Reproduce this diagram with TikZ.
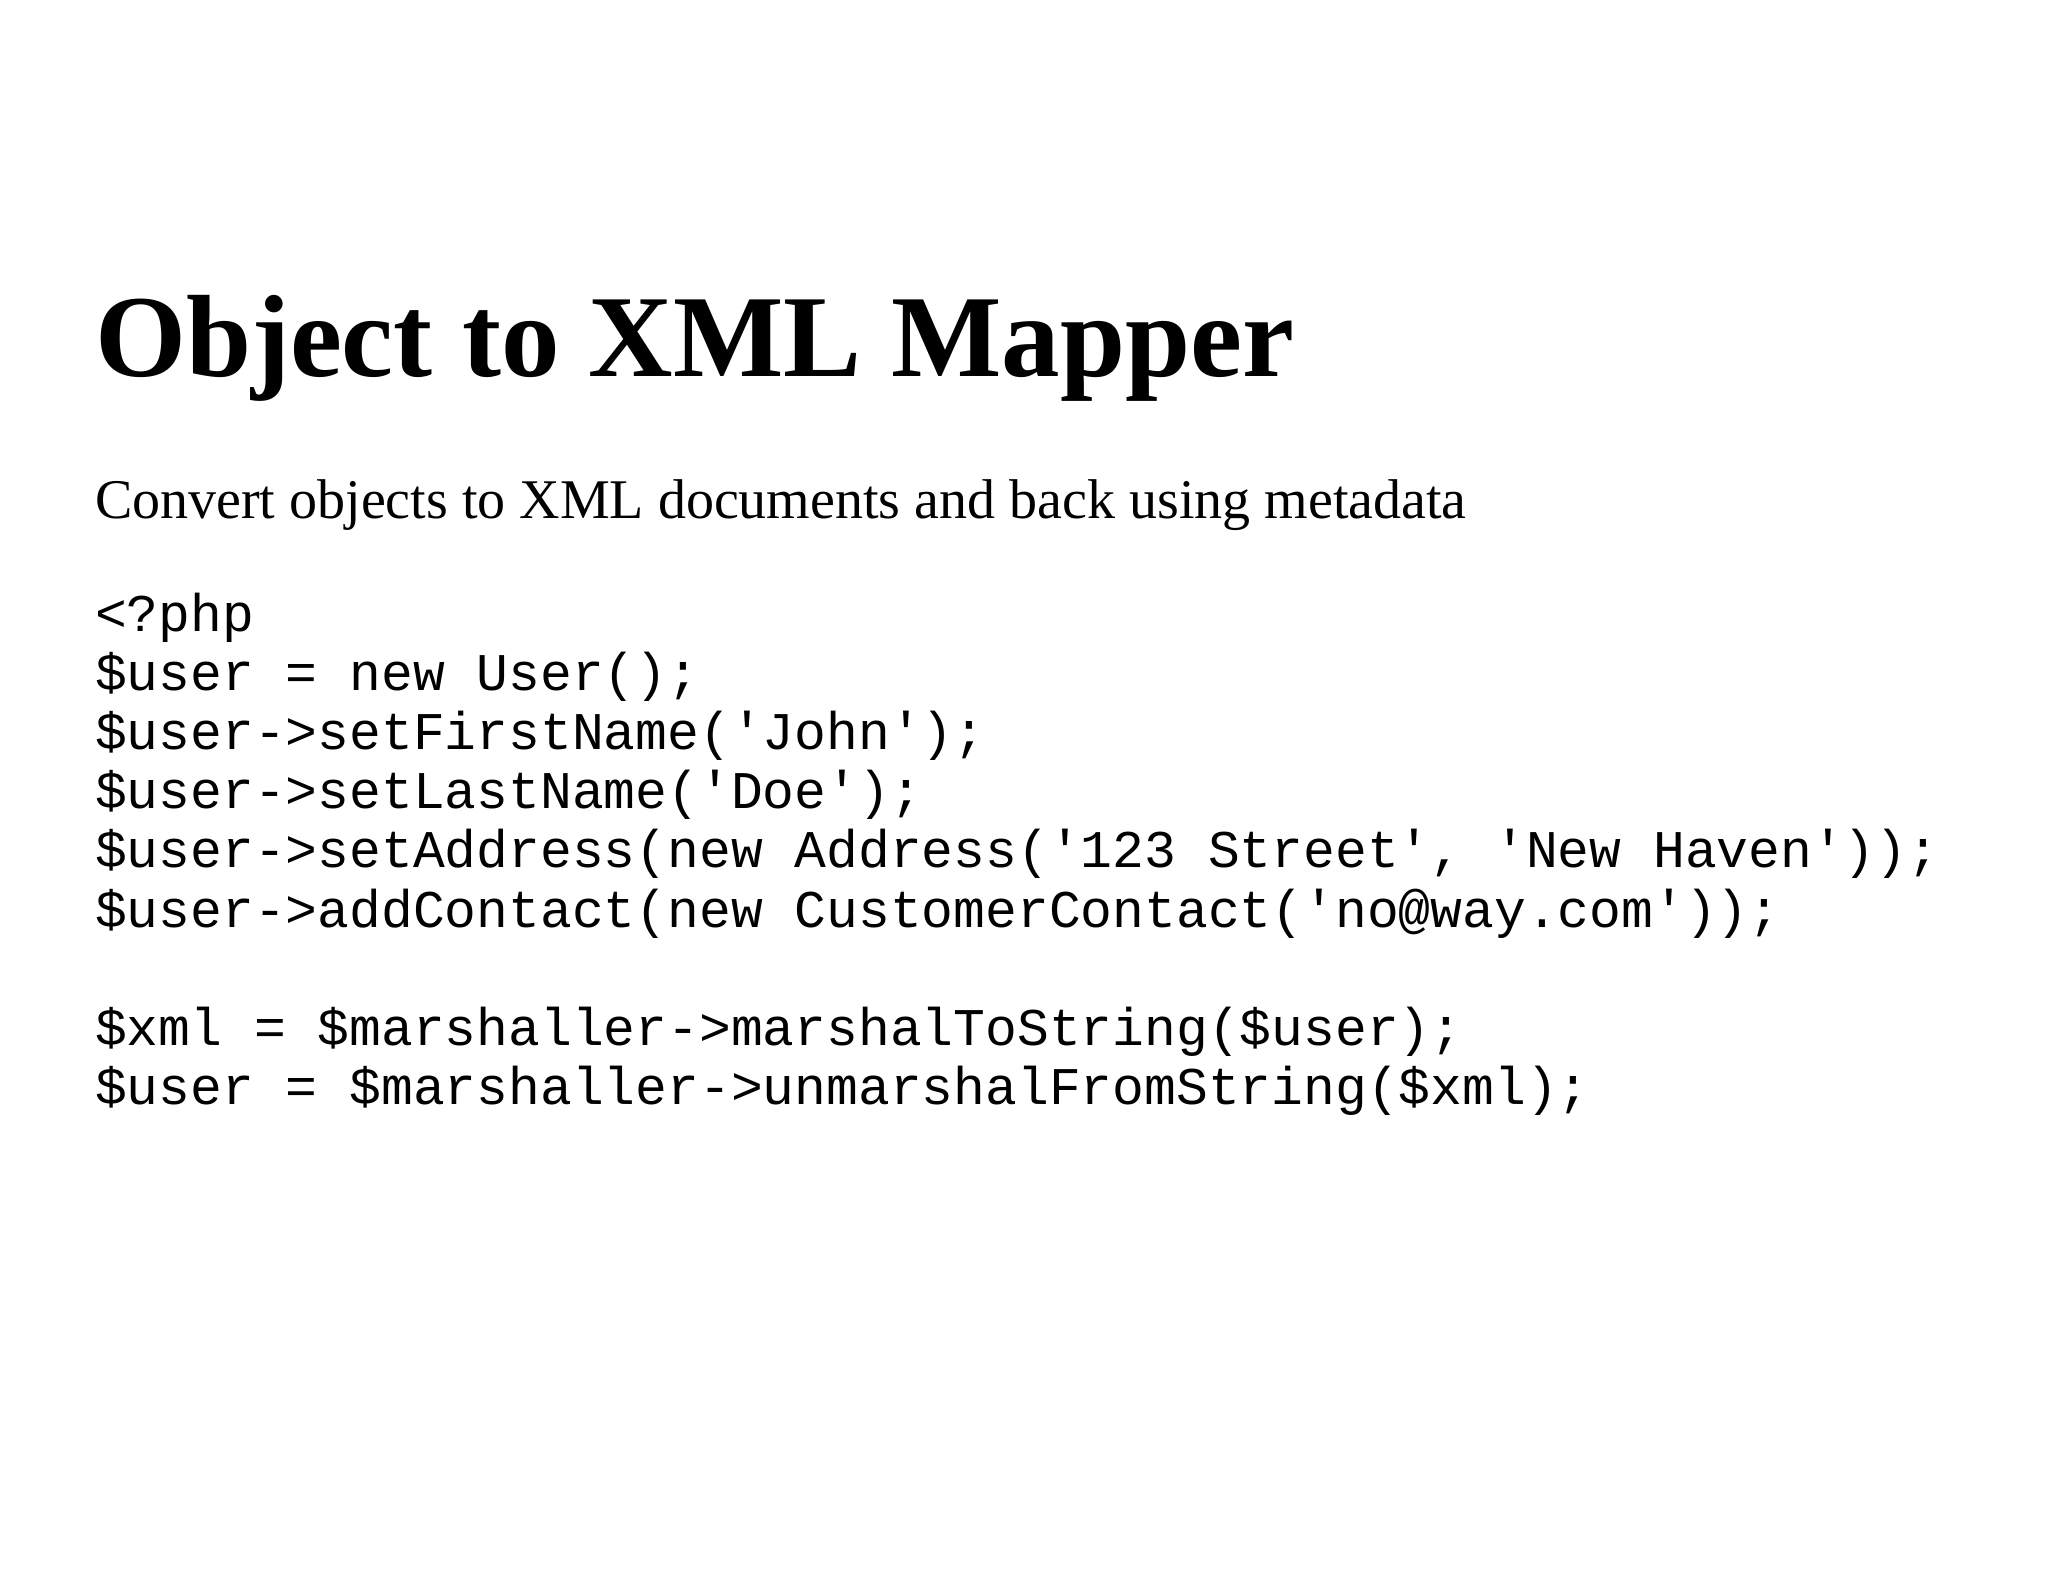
\documentclass[tikz,border=0pt]{standalone}
\usepackage{fontspec}
\setmainfont{Liberation Serif}
\setmonofont{Liberation Mono}
\begin{document}
\begin{tikzpicture}[x=1pt,y=-1pt,
  txt/.style={anchor=base west,inner sep=0pt,outer sep=0pt}]
\useasboundingbox (0,0) rectangle (2048,1582);
\node[txt,font=\fontsize{117}{117}\selectfont\bfseries] (title) at (95,376) {Object to XML Mapper};
\node[txt,font=\fontsize{56}{56}\selectfont] (sub) at (95,518) {Convert objects to XML documents and back using metadata};
\foreach \t [count=\i] in {{<?php},{\$user = new User();},{\$user->setFirstName('John');},{\$user->setLastName('Doe');},{\$user->setAddress(new Address('123 Street', 'New Haven'));},{\$user->addContact(new CustomerContact('no@way.com'));},{},{\$xml = \$marshaller->marshalToString(\$user);},{\$user = \$marshaller->unmarshalFromString(\$xml);}}
  \node[txt,font=\fontsize{53}{53}\selectfont\ttfamily] (code\i) at (95,{631+59.2*(\i-1)}) {\t};
\end{tikzpicture}
\end{document}
